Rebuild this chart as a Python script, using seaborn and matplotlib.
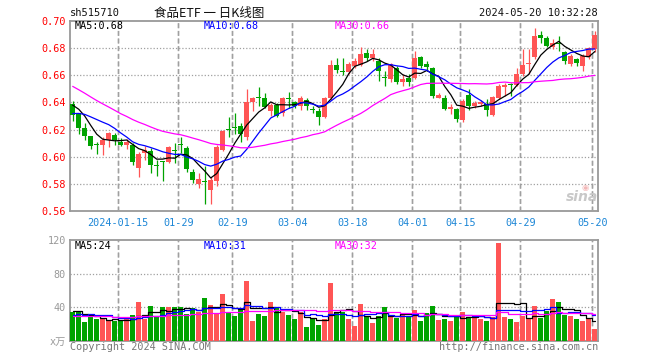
import numpy as np
import pandas as pd
import matplotlib
matplotlib.use("Agg")
import matplotlib.pyplot as plt
import seaborn as sns

# ---------------------------------------------------------------
# daily OHLC of 食品ETF (sh515710), 2024-01-03 .. 2024-05-20
# ---------------------------------------------------------------
open_ = [0.639, 0.632, 0.621, 0.615, 0.609, 0.6083, 0.6124, 0.616, 0.6105, 0.6083,
         0.6088, 0.5916, 0.6028, 0.6044, 0.5938, 0.5965, 0.596, 0.6043, 0.6088, 0.6064,
         0.5887, 0.580, 0.5818, 0.5757, 0.5823, 0.605, 0.6198, 0.6215, 0.6229, 0.6148,
         0.6406, 0.6437, 0.6431, 0.634, 0.6382, 0.632, 0.6428, 0.6401, 0.637, 0.6419,
         0.6347, 0.6338, 0.6291, 0.6431, 0.6677, 0.6629, 0.6625, 0.6672, 0.6677, 0.6761,
         0.6731, 0.6706, 0.6585, 0.6571, 0.6657, 0.6547, 0.6583, 0.6583, 0.6738, 0.6682,
         0.6657, 0.6436, 0.6436, 0.6353, 0.635, 0.6269, 0.6452, 0.6373, 0.639, 0.6385,
         0.6306, 0.6435, 0.6514, 0.653, 0.6528, 0.6607, 0.6682, 0.6736, 0.6896, 0.6874,
         0.681, 0.6832, 0.6773, 0.6681, 0.6719, 0.6669, 0.6736, 0.6793]
high = [0.641, 0.632, 0.6245, 0.615, 0.6112, 0.6148, 0.6185, 0.6178, 0.6136, 0.613,
        0.610, 0.6035, 0.6076, 0.6064, 0.5979, 0.597, 0.6076, 0.610, 0.6147, 0.6076,
        0.5913, 0.5882, 0.593, 0.5853, 0.6087, 0.6197, 0.6296, 0.632, 0.6246, 0.650,
        0.6443, 0.651, 0.6468, 0.6394, 0.6394, 0.6443, 0.648, 0.6411, 0.6451, 0.6431,
        0.637, 0.6357, 0.6443, 0.6714, 0.6731, 0.6731, 0.6699, 0.6731, 0.6812, 0.6793,
        0.6797, 0.6731, 0.6633, 0.6687, 0.667, 0.6608, 0.6608, 0.678, 0.6743, 0.6706,
        0.6662, 0.647, 0.6453, 0.6391, 0.6362, 0.6424, 0.6496, 0.641, 0.642, 0.6422,
        0.6447, 0.6533, 0.6546, 0.6546, 0.6657, 0.6793, 0.6793, 0.6948, 0.6928, 0.6891,
        0.6867, 0.6891, 0.678, 0.6756, 0.6731, 0.6756, 0.6805, 0.6928]
low = [0.626, 0.617, 0.612, 0.606, 0.6023, 0.601, 0.6071, 0.6088, 0.6076, 0.6055,
       0.5936, 0.5851, 0.5979, 0.5882, 0.5858, 0.5822, 0.5952, 0.5955, 0.603, 0.5889,
       0.5805, 0.5769, 0.5654, 0.5654, 0.5787, 0.6042, 0.6148, 0.6165, 0.6106, 0.6123,
       0.6338, 0.637, 0.6357, 0.6303, 0.6296, 0.6303, 0.6357, 0.6357, 0.6345, 0.6345,
       0.632, 0.6234, 0.6283, 0.6419, 0.6616, 0.6603, 0.6608, 0.6657, 0.667, 0.6702,
       0.6707, 0.6559, 0.6522, 0.6547, 0.6534, 0.6522, 0.6522, 0.6571, 0.6657, 0.6633,
       0.6431, 0.6436, 0.6342, 0.6318, 0.6259, 0.6259, 0.6341, 0.636, 0.637, 0.6299,
       0.6299, 0.6422, 0.6447, 0.6447, 0.6521, 0.6595, 0.6612, 0.6719, 0.6837, 0.6805,
       0.6793, 0.678, 0.6681, 0.6669, 0.6669, 0.6632, 0.6719, 0.6768]
close = [0.631, 0.621, 0.615, 0.6076, 0.6085, 0.6124, 0.6178, 0.6124, 0.6083, 0.6107,
         0.596, 0.6023, 0.6052, 0.594, 0.5935, 0.5962, 0.6069, 0.604, 0.6085, 0.5911,
         0.5829, 0.5834, 0.5815, 0.5828, 0.6074, 0.619, 0.6195, 0.621, 0.6165, 0.6406,
         0.6431, 0.6434, 0.6365, 0.6382, 0.6303, 0.6431, 0.6426, 0.6377, 0.6436, 0.6374,
         0.6345, 0.6291, 0.6431, 0.6677, 0.664, 0.6627, 0.6682, 0.6703, 0.6756, 0.6726,
         0.6756, 0.6628, 0.6583, 0.6682, 0.6554, 0.6571, 0.6547, 0.6726, 0.667, 0.6662,
         0.6448, 0.6453, 0.6355, 0.6367, 0.6276, 0.6411, 0.6373, 0.6398, 0.640, 0.6341,
         0.644, 0.6521, 0.6528, 0.6528, 0.6607, 0.6677, 0.6694, 0.6891, 0.6874, 0.6817,
         0.6837, 0.683, 0.6706, 0.6743, 0.6689, 0.6743, 0.680, 0.6899]
# volume (万手)
volume = [34.6, 33.8, 22.3, 28.7, 25.9, 25.9, 23.5, 23.5, 23.5, 25.9,
          30.6, 46.2, 25.9, 41.4, 29.5, 40.2, 40.2, 40.2, 40.2, 31.8,
          39.0, 34.2, 51.0, 42.6, 33.0, 55.7, 33.0, 29.5, 39.0, 71.2,
          23.5, 31.8, 29.5, 46.2, 40.2, 34.2, 30.6, 25.9, 34.2, 16.3,
          25.9, 18.7, 25.9, 68.9, 33.0, 34.2, 25.9, 17.5, 43.8, 28.3,
          21.1, 29.5, 40.2, 30.6, 27.1, 31.8, 29.5, 36.6, 24.0, 33.5,
          41.5, 25.0, 26.5, 24.0, 28.5, 34.5, 28.5, 28.5, 26.5, 24.0,
          28.5, 116.5, 28.5, 26.5, 22.0, 30.0, 26.5, 42.0, 27.1, 35.0,
          49.5, 46.0, 30.6, 29.0, 26.5, 24.0, 26.0, 14.5]
# closes / volumes of the 29 sessions before the window (for moving averages)
prior_close = [0.695, 0.692, 0.690, 0.688, 0.686, 0.688, 0.685, 0.683, 0.672, 0.665,
               0.660, 0.655, 0.650, 0.645, 0.640, 0.636, 0.632, 0.628, 0.625, 0.622,
               0.620, 0.622, 0.626, 0.628, 0.632, 0.636, 0.640, 0.642, 0.641]
prior_volume = [28, 30, 27, 31, 29, 26, 33, 28, 30, 29, 27, 31, 28, 30, 29, 26, 32, 28, 30, 27,
                25, 27, 24, 28, 27, 33, 36, 38, 33]

tick_idx = [8, 18, 27, 37, 47, 57, 65, 75, 87]
tick_labels = ["2024-01-15", "01-29", "02-19", "03-04", "03-18",
               "04-01", "04-15", "04-29", "05-20"]

RED = "#FF5555"
GREEN = "#00A300"
GRID = "#A0A0A0"
MONO = "DejaVu Sans Mono"

n = len(close)
idx = np.arange(n)
df = pd.DataFrame({"i": idx, "open": open_, "high": high, "low": low,
                   "close": close, "volume": volume})
df["dir"] = np.where(df["close"] >= df["open"], "up", "down")

pc = pd.Series(prior_close + close)
pv = pd.Series(prior_volume + volume)
k0 = len(prior_close)
for w in (5, 10, 30):
    df[f"ma{w}"] = pc.rolling(w).mean().iloc[k0:].values
    df[f"vma{w}"] = pv.rolling(w).mean().iloc[k0:].values

sns.set_style("white")
plt.rcParams["font.family"] = [MONO, "Noto Sans CJK SC"]
plt.rcParams["lines.scale_dashes"] = False

W, H = 660, 360
fig = plt.figure(figsize=(W / 100, H / 100), dpi=100)
fig.patch.set_facecolor("white")


def fx(px):
    return px / W


def fy(py):
    return 1 - py / H


ax = fig.add_axes([fx(70), fy(211), fx(527.5), (211 - 21) / H])
axv = fig.add_axes([fx(70), fy(340.7), fx(527.5), (340.7 - 240.3) / H])
grid_x = [t - 0.42 for t in tick_idx]

colors = df["dir"].map({"up": RED, "down": GREEN}).tolist()

# ---- candles ----
ax.vlines(idx, low, high, colors=colors, lw=0.9, zorder=3)
body_lo = np.minimum(open_, close)
body_h = np.maximum(np.abs(np.subtract(close, open_)), 0.0006)
ax.bar(idx, body_h, bottom=body_lo, width=0.78, color=colors, linewidth=0, zorder=4)

for col, c in (("ma5", "black"), ("ma10", "#0000FF"), ("ma30", "#FF00FF")):
    sns.lineplot(data=df, x="i", y=col, color=c, lw=0.9, ax=ax, zorder=5)

# ---- volume ----
sns.barplot(data=df, x="i", y="volume", hue="dir", palette={"up": RED, "down": GREEN},
            native_scale=True, dodge=False, width=0.86, linewidth=0, saturation=1,
            legend=False, ax=axv, zorder=3)
for col, c in (("vma5", "black"), ("vma10", "#0000FF"), ("vma30", "#FF00FF")):
    sns.lineplot(data=df, x="i", y=col, color=c, lw=0.9, ax=axv, zorder=5,
                 drawstyle="steps-mid")

# ---- axes styling ----
ax.set_ylim(0.56, 0.70)
axv.set_ylim(0, 120)
for a in (ax, axv):
    a.set_xlim(-0.45, n - 0.55)
    a.set_xlabel("")
    a.set_ylabel("")
    for s in a.spines.values():
        s.set_color("#999999")
        s.set_linewidth(1.3)
    a.set_xticks(grid_x)
    a.tick_params(length=0)
    # dashed date lines: tick grid plus explicit segments
    a.grid(True, axis="x", color=GRID, lw=1.0, ls=(0, (3.5, 2.0)))
    a.set_axisbelow(False)
    lo, hi = a.get_ylim()
    for gx in grid_x:
        a.plot([gx, gx], [lo, hi], color=GRID, lw=1.0, ls=(0, (3.5, 2.0)), zorder=2.5)
    a.set_ylim(lo, hi)
    a.set_xlim(-0.45, n - 0.55)

ax.hlines([0.58, 0.60, 0.62, 0.64, 0.66, 0.68], -0.45, n - 0.55, colors=GRID, lw=0.9,
          linestyles=[(0, (0.9, 1.4))], zorder=2)
axv.hlines([40, 80], -0.45, n - 0.55, colors=GRID, lw=0.9,
           linestyles=[(0, (0.9, 1.4))], zorder=2)

ax.set_yticks([0.56, 0.58, 0.60, 0.62, 0.64, 0.66, 0.68, 0.70])
ax.set_yticklabels([f"{v:.2f}" for v in ax.get_yticks()], color="#FF0000", fontsize=7.3)
ax.set_xticklabels(tick_labels, color="#1C86D6", fontsize=7.3)
ax.tick_params(axis="x", pad=5)
ax.tick_params(axis="y", pad=3)

axv.set_yticks([0, 40, 80, 120])
axv.set_yticklabels(["x万", "40", "80", "120"], color="#999999", fontsize=7.3)
axv.set_xticklabels([""] * len(grid_x))
axv.tick_params(axis="y", pad=3)

# ---- texts ----
fig.text(fx(70), fy(13), "sh515710", fontsize=7.5, va="center", ha="left", color="#111111")
fig.text(fx(209), fy(13), "食品ETF 一 日K线图", fontsize=9, va="center", ha="center",
         color="#111111", family=["Noto Sans CJK SC", MONO])
fig.text(fx(598), fy(13), "2024-05-20 10:32:28", fontsize=7.5, va="center", ha="right",
         color="#111111")

last = df.iloc[-1]
fig.text(fx(75), fy(26), f"MA5:{last['ma5']:.2f}", fontsize=7.3, va="center", color="black")
fig.text(fx(204), fy(26), f"MA10:{last['ma10']:.2f}", fontsize=7.3, va="center", color="#0000FF")
fig.text(fx(335), fy(26), f"MA30:{last['ma30']:.2f}", fontsize=7.3, va="center", color="#FF00FF")
fig.text(fx(75), fy(246), f"MA5:{last['vma5']:.0f}", fontsize=7.3, va="center", color="black")
fig.text(fx(204), fy(246), f"MA10:{last['vma10']:.0f}", fontsize=7.3, va="center", color="#0000FF")
fig.text(fx(335), fy(246), f"MA30:{last['vma30']:.0f}", fontsize=7.3, va="center", color="#FF00FF")

fig.text(fx(70), fy(347), "Copyright 2024 SINA.COM", fontsize=7.3, va="center", color="#777777")
fig.text(fx(598), fy(347), "http://finance.sina.com.cn", fontsize=7.3, va="center", ha="right",
         color="#777777")
fig.text(fx(582), fy(197), "sina", fontsize=10, fontweight="bold", style="italic",
         va="center", ha="center", color="#C8C8C8", family="DejaVu Sans")
fig.text(fx(585), fy(187), "◉", fontsize=6, va="center", ha="center", color="#F2B8B8",
         family="DejaVu Sans")

fig.savefig("out.png", dpi=100)
